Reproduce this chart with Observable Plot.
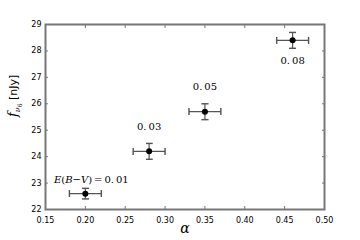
<!DOCTYPE html>
<html><head><meta charset="utf-8">
<script src="https://cdn.jsdelivr.net/npm/d3@7"></script>
<script src="https://cdn.jsdelivr.net/npm/@observablehq/plot@0.6"></script>
<style>body{margin:0;background:#fff}</style>
</head><body><div id="chart"></div>
<script>
const alpha = [0.20, 0.28, 0.35, 0.46];
const flux = [22.6, 24.2, 25.7, 28.4];
const alphaErr = [0.02, 0.02, 0.02, 0.02];
const fluxErr = [0.2, 0.3, 0.3, 0.3];
const ebv = ["0.01", "0.03", "0.05", "0.08"];
const xTicks = [0.15, 0.20, 0.25, 0.30, 0.35, 0.40, 0.45, 0.50];
const yTicks = [22, 23, 24, 25, 26, 27, 28, 29];

const data = alpha.map((a, i) => ({a, f: flux[i], ea: alphaErr[i], ef: fluxErr[i], lab: ebv[i], i}));
const labelDy = [-14, -25, -25, 20];
const labelDx = [6, 0, 0, 0];
const grey = "#777";
const errc = "#555";
const sans = "DejaVu Sans";
const serif = "DejaVu Serif";

const chart = Plot.plot({
  width: 360, height: 240,
  marginLeft: 45, marginRight: 36, marginTop: 24, marginBottom: 31,
  style: {fontFamily: sans, fontSize: "8px", background: "#fff", color: "#000"},
  x: {domain: [0.15, 0.50]},
  y: {domain: [22, 29]},
  marks: [
    Plot.axisX(xTicks, {anchor: "bottom", tickSize: -3, tickPadding: 11, tickFormat: d3.format(".2f"), stroke: grey, label: null, fontSize: 8}),
    Plot.axisX(xTicks, {anchor: "top", tickSize: -3, tickFormat: () => "", stroke: grey, label: null}),
    Plot.axisY(yTicks, {anchor: "left", tickSize: -3, tickPadding: 7, tickFormat: d3.format("d"), stroke: grey, label: null, fontSize: 8}),
    Plot.axisY(yTicks, {anchor: "right", tickSize: -3, tickFormat: () => "", stroke: grey, label: null}),
    Plot.frame({stroke: grey, strokeWidth: 2}),
    Plot.link(data, {x1: d => d.a - d.ea, x2: d => d.a + d.ea, y1: "f", y2: "f", stroke: errc, strokeWidth: 1.2, marker: "tick"}),
    Plot.link(data, {x1: "a", x2: "a", y1: d => d.f - d.ef, y2: d => d.f + d.ef, stroke: errc, strokeWidth: 1.2, marker: "tick"}),
    Plot.dot(data, {x: "a", y: "f", r: 3, fill: "#000", stroke: "none"}),
    Plot.text(data, {x: "a", y: "f", text: "lab", fontFamily: serif, fontSize: 10, fill: "#000", className: "ebv"}),
    Plot.text(["α"], {frameAnchor: "bottom", dy: 23, fontFamily: serif, fontStyle: "italic", fontSize: 14, text: d => d}),
    Plot.text(["y"], {frameAnchor: "left", dx: -32, rotate: -90, fontFamily: serif, fontSize: 10, text: d => d, className: "ylab"})
  ]
});
document.getElementById("chart").append(chart);
const svg = d3.select(chart);
svg.selectAll(".ebv text").each(function(d, i) {
  const t = d3.select(this);
  t.attr("dy", labelDy[i]).attr("dx", labelDx[i]);
  const v = ebv[i];
  t.text(null);
  if (i === 0) {
    t.append("tspan").attr("font-style", "italic").text("E");
    t.append("tspan").text("(");
    t.append("tspan").attr("font-style", "italic").text("B");
    t.append("tspan").text("\u2212");
    t.append("tspan").attr("font-style", "italic").text("V");
    t.append("tspan").text(")\u2009=\u2009");
  }
  t.append("tspan").text(v.replace(".", ".\u2009"));
});
// y label with subscripts
const yl = svg.select(".ylab text");
yl.text(null);
yl.append("tspan").attr("font-style", "italic").attr("font-size", 13).text("f");
yl.append("tspan").attr("font-style", "italic").attr("font-size", 8).attr("dy", 3).text("ν");
yl.append("tspan").attr("font-size", 6).attr("dy", 2).text("6");
yl.append("tspan").attr("dy", -5).attr("font-family", sans).attr("font-size", 11).text(" [nJy]");
</script></body></html>
